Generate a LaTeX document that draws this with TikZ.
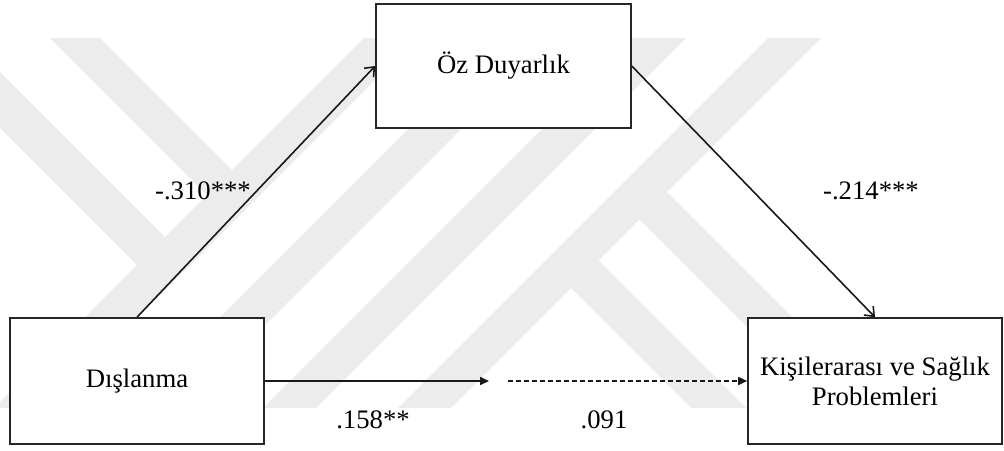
\documentclass[tikz,border=0pt]{standalone}
\usepackage{fontspec}
\setmainfont{Liberation Serif}
\usetikzlibrary{arrows.meta}
\definecolor{wm}{RGB}{236,236,236}
\begin{document}
\begin{tikzpicture}[x=1pt,y=-1pt,
  box/.style={draw=black!85, fill=white, line width=1.6pt, minimum width=254pt, minimum height=126pt,
    inner sep=0pt, align=center, font=\fontsize{26.7}{30}\selectfont},
  lbl/.style={anchor=base, inner sep=0pt, font=\fontsize{26.7}{30}\selectfont},
  conn/.style={line width=1.6pt, draw=black!90},
  barb/.style={-{Straight Barb[length=8pt,width=13pt]}},
  tri/.style={-{Triangle[length=9pt,width=8pt]}},
  wmark/.style={fill=wm, draw=none}
]
\useasboundingbox (0,0) rectangle (1004,450);

% watermark (light grey bands)
\begin{scope}
  \clip (0,38) rectangle (1004,408);
  % "/" bands (x+y = s)
  \foreach \sa/\sb in {402/455, 537/590, 671/724, 806/859}{
    \fill[wmark] ({\sa-38},38) -- ({\sb-38},38) -- ({\sb-408},408) -- ({\sa-408},408) -- cycle;
  }
  % left teeth
  \fill[wmark] (50,38) -- (100,38) -- (236,174) -- (211,199) -- cycle;
  \fill[wmark] (-90,38) -- (-34,38) -- (169,241) -- (141,269) -- cycle;
  % right teeth
  \fill[wmark] (566.5,283.5) -- (594,256) -- (746,408) -- (691,408) -- cycle;
  \fill[wmark] (635,215) -- (662.5,187.5) -- (883,408) -- (828,408) -- cycle;
\end{scope}

\node[box] (D) at (137,381) {Dışlanma};
\node[box, minimum width=255pt, minimum height=124pt] (O) at (503.5,66) {Öz Duyarlık};
\node[box] (K) at (875,381) {Kişilerarası ve Sağlık\\Problemleri};

\coordinate (m1) at (489,381);
\coordinate (m2) at (508,381);

\draw[conn, barb] (D.north) -- (O.west);
\draw[conn, barb] (O.east) -- (K.north);
\draw[conn, tri] (D.east) -- (m1);
\draw[conn, tri, dash pattern=on 5pt off 3pt] (m2) -- (K.west);

\node[lbl] (l1) at (203,199) {-.310***};
\node[lbl] (l2) at (871,199) {-.214***};
\node[lbl] (l3) at (373,428) {.158**};
\node[lbl] (l4) at (604,428) {.091};
\end{tikzpicture}
\end{document}
